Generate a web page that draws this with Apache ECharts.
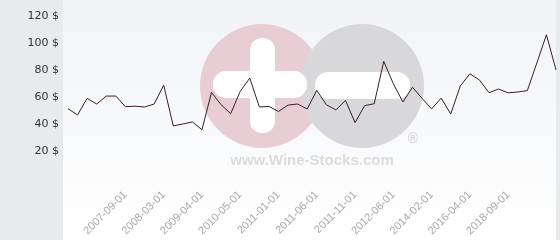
<!DOCTYPE html>
<html>
<head>
<meta charset="utf-8">
<script src="https://cdn.jsdelivr.net/npm/echarts@6/dist/echarts.min.js"></script>
<style>html,body{margin:0;padding:0;background:#fff}#c{width:560px;height:240px}</style>
</head>
<body>
<div id="c"></div>
<script>
const categories = [
  '2007-03-01','2007-04-01','2007-05-01','2007-06-01','2007-07-01','2007-08-01','2007-09-01','2007-10-01','2007-12-01','2008-01-01',
  '2008-03-01','2008-06-01','2008-09-01','2008-12-01','2009-04-01','2009-07-01','2009-10-01','2010-01-01','2010-05-01','2010-07-01',
  '2010-09-01','2010-11-01','2011-01-01','2011-02-01','2011-03-01','2011-04-01','2011-06-01','2011-07-01','2011-08-01','2011-09-01',
  '2011-11-01','2012-01-01','2012-03-01','2012-04-01','2012-06-01','2012-11-01','2013-04-01','2013-09-01','2014-02-01','2014-08-01',
  '2015-02-01','2015-09-01','2016-04-01','2016-12-01','2017-06-01','2018-01-01','2018-09-01','2019-04-01','2019-11-01','2020-06-01',
  '2021-01-01','2021-08-01'
];
const prices = [
  51.3, 46.7, 59.0, 54.8, 60.7, 60.7, 52.8, 53.2, 52.6, 54.8,
  68.8, 38.6, 40.0, 41.5, 35.8, 63.4, 54.3, 47.6, 64.2, 74.0,
  52.6, 53.0, 49.3, 54.0, 54.8, 51.1, 64.9, 54.3, 50.4, 57.5,
  41.0, 53.6, 55.0, 86.4, 69.8, 56.3, 67.2, 59.0, 51.2, 59.2,
  47.4, 68.2, 77.2, 72.6, 63.2, 65.9, 63.1, 63.7, 64.7, 85.2,
  106.1, 80.1
];
const yTicks = [0, 20, 40, 60, 80, 100, 120];
const shownLabels = ['2007-09-01','2008-03-01','2009-04-01','2010-05-01','2011-01-01','2011-06-01','2011-11-01','2012-06-01','2014-02-01','2016-04-01','2018-09-01'];

const chart = echarts.init(document.getElementById('c'), null, {renderer: 'canvas'});
chart.setOption({
  animation: false,
  backgroundColor: '#ffffff',
  graphic: {
    zlevel: -1,
    elements: [
      {type: 'rect', z2: 1, shape: {x: 0, y: 0, width: 560, height: 240}, style: {fill: '#e7ebee'}},
      {type: 'rect', z2: 2, shape: {x: 63, y: 0, width: 493, height: 240},
        style: {fill: new echarts.graphic.LinearGradient(0, 0, 0, 1, [
          {offset: 0, color: '#f1f3f7'}, {offset: 1, color: '#ffffff'}])}},
      {type: 'circle', z2: 3, shape: {cx: 262, cy: 86, r: 62}, style: {fill: '#e8cdd4'}},
      {type: 'circle', z2: 4, shape: {cx: 362, cy: 86, r: 62}, style: {fill: '#d8d8da'}},
      {type: 'rect', z2: 5, shape: {x: 250, y: 38, width: 25, height: 95, r: 12}, style: {fill: '#ffffff'}},
      {type: 'rect', z2: 5, shape: {x: 213, y: 71, width: 94, height: 27, r: 13}, style: {fill: '#ffffff'}},
      {type: 'rect', z2: 5, shape: {x: 315, y: 72, width: 95, height: 27, r: 13}, style: {fill: '#ffffff'}},
      {type: 'text', z2: 6, x: 312, y: 161, style: {text: 'www.Wine-Stocks.com', fill: '#dcdcdc', font: 'bold 15px "Liberation Sans", Arial, sans-serif', align: 'center', verticalAlign: 'middle'}},
      {type: 'text', z2: 6, x: 413, y: 139, style: {text: '®', fill: '#d6d6d6', font: 'bold 14px "Liberation Sans", Arial, sans-serif', align: 'center', verticalAlign: 'middle'}}
    ]
  },
  grid: {left: 68, right: 4, top: 16, bottom: 62, containLabel: false},
  xAxis: {
    type: 'category',
    data: categories,
    boundaryGap: false,
    axisLine: {show: false},
    axisTick: {show: false},
    splitLine: {show: false},
    axisLabel: {
      rotate: 45,
      margin: 15,
      color: '#a8a8a8',
      fontSize: 11,
      fontFamily: '"Liberation Sans", Arial, sans-serif',
      interval: function (idx, val) { return shownLabels.indexOf(val) !== -1; }
    }
  },
  yAxis: {
    type: 'value',
    min: yTicks[0],
    max: yTicks[yTicks.length - 1],
    interval: 20,
    axisLine: {show: false},
    axisTick: {show: false},
    splitLine: {show: true, lineStyle: {color: '#dcdcdf', width: 1}},
    axisLabel: {
      margin: 9,
      color: '#333333',
      fontSize: 11,
      fontFamily: '"DejaVu Sans", sans-serif',
      formatter: function (v) { return v === 0 ? '' : v + ' $'; }
    }
  },
  series: [{
    type: 'line',
    data: prices,
    showSymbol: false,
    symbol: 'none',
    lineStyle: {color: '#3a1e2b', width: 1},
    z: 6
  }]
});
</script>
</body>
</html>
